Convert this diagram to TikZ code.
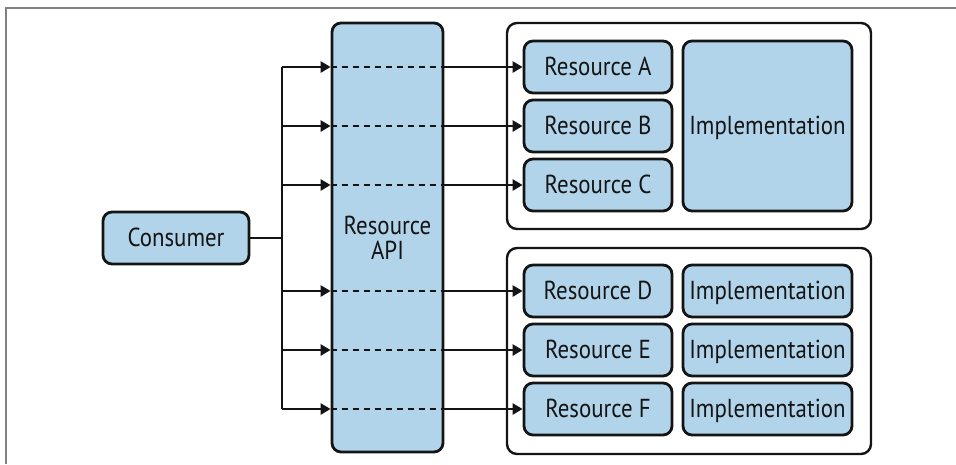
\documentclass[tikz,border=0pt]{standalone}
\usepackage{fontspec}
\setmainfont{PT Sans}[FakeStretch=0.88]
\usetikzlibrary{arrows.meta}
\definecolor{apiblue}{RGB}{178,212,234}
\definecolor{inkblack}{RGB}{20,20,20}

\begin{document}
\begin{tikzpicture}[x=1pt,y=-1pt,every node/.style={inner sep=0pt},
  box/.style={draw=inkblack,line width=2.8pt,rounded corners=9pt,fill=apiblue,
    minimum height=52pt,text=inkblack,font=\fontsize{26}{25}\selectfont},
  oneline/.style={text height=18pt,text depth=1pt},
  group/.style={draw=inkblack,line width=2.4pt,rounded corners=10pt,
    minimum width=364pt,minimum height=206pt},
  link/.style={draw=inkblack,line width=2.8pt},
  arrowline/.style={-{Triangle[length=10pt,width=11pt]}},
  dashline/.style={dash pattern=on 6pt off 5pt}]
  \useasboundingbox (0,0) rectangle (956,464);
  \draw [gray,line width=1.5pt] (6,464) -- (6,8) -- (956,8);

  \node [box,oneline,minimum width=146pt] (cons) at (176,238) {Consumer};
  \node [box,minimum width=111pt,minimum height=429pt,align=center]
  (api) at (387.5,237.5) {Resource\\API};

  \node [group] (grpabc) at (689,126) {};
  \node [group] (grpdef) at (689,351) {};

  \node [box,oneline,minimum width=169pt,minimum height=170pt] (implabc) at (767.5,126) {Implementation};
  \foreach \n/\y in {A/67,B/126,C/185,D/291,E/350,F/409}
    \node [box,oneline,minimum width=148pt] (res\n) at (598,\y) {Resource \n};
  \foreach \n/\y in {D/291,E/350,F/409}
    \node [box,oneline,minimum width=169pt] (impl\n) at (767.5,\y) {Implementation};

  \coordinate (trunk) at (282,238);
  \draw [link] (cons.east) -- (trunk);
  \draw [link] (trunk |- resA) -- (trunk |- resF);

  \foreach \n in {A,B,C,D,E,F} {
    \draw [link,arrowline] (trunk |- res\n) -- (api.west |- res\n);
    \draw [link,dashline] (api.west |- res\n) -- (api.east |- res\n);
    \draw [link,arrowline] (api.east |- res\n) -- (res\n.west);
  }
\end{tikzpicture}
\end{document}
